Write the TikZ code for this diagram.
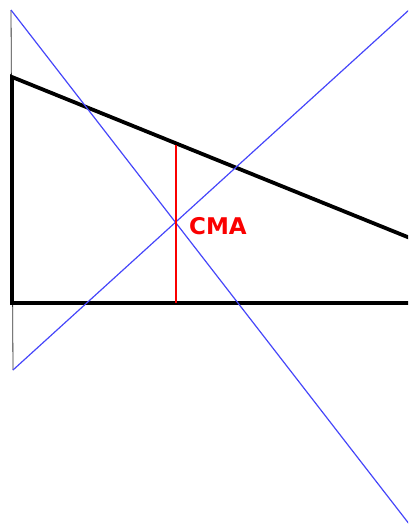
\documentclass[tikz,border=0pt]{standalone}
\usepackage{fontspec}
\newfontfamily\cmafont{DejaVu Sans}
\definecolor{cblue}{RGB}{70,70,250}
\definecolor{cred}{RGB}{250,0,0}
\tikzset{cmapic/.style={x=1pt,y=-1pt},
  outline/.style={line width=3.8pt,line join=miter},
  guide/.style={line width=0.8pt,black!80},
  diag/.style={cblue,line width=1.2pt},
  median/.style={cred,line width=1.8pt},
  cmalabel/.style={cred,font=\cmafont\bfseries\fontsize{23}{25}\selectfont,inner sep=0pt}}

\begin{document}
\begin{tikzpicture}[cmapic]
    \useasboundingbox (0,0) rectangle (408,531);
    \clip (0,0) rectangle (408,531);
    % frame of the figure
    \coordinate (gtop) at (11,10);
    \coordinate (gbot) at (13,370);
    \coordinate (tl) at (12,77);
    \coordinate (bl) at (12,303);
    \coordinate (tr) at (410,238);
    \coordinate (br) at (410,303);
    \coordinate (d1) at (420,538);
    \coordinate (d2) at (420,0);
    \coordinate (ctop) at (176,145);
    \coordinate (cbot) at (176,303);
    \draw[guide] (gtop) -- (gbot);
    \draw[outline] (tr) -- (tl) -- (bl) -- (br);
    \draw[diag] (gtop) -- (d1);
    \draw[diag] (gbot) -- (d2);
    \draw[median] (ctop) -- (cbot);
    \node[cmalabel,anchor=west] (cma) at (189,226) {CMA};
\end{tikzpicture}
\end{document}
